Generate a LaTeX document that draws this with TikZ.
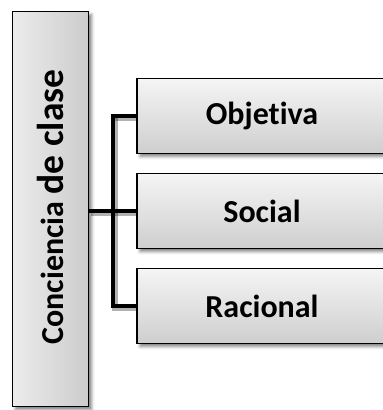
\documentclass[tikz,border=0pt]{standalone}
\usepackage{fontspec}
\setmainfont[Ligatures=NoCommon]{Carlito}
\usetikzlibrary{shadows.blur}
\begin{document}
\begin{tikzpicture}[x=1pt,y=-1pt,
  leftbox/.style={draw=black, line width=1.2pt, left color=gray!15, right color=gray!40,
     blur shadow={shadow xshift=3pt, shadow yshift=-3pt, shadow blur radius=3pt, shadow opacity=50}},
  childbox/.style={draw=black, line width=1.2pt, top color=gray!8, bottom color=gray!38,
     minimum width=250pt, minimum height=75pt, inner sep=0pt, font=\bfseries\fontsize{32}{36}\selectfont,
     blur shadow={shadow xshift=3pt, shadow yshift=-3pt, shadow blur radius=3pt, shadow opacity=50}},
  conn/.style={line width=4.5pt, black},
  connshadow/.style={line width=6pt, black, opacity=0.3, shorten >=2.5pt, transform canvas={shift={(2pt,-2pt)}}}]
\useasboundingbox (0,0) rectangle (383,410);
\clip (0,0) rectangle (383,410);
\node[leftbox, minimum width=76pt, minimum height=395pt, inner sep=0pt, anchor=north west] (main) at (12,11) {};
\node[rotate=90, font=\bfseries] (mlabel) at (50,207) {\fontsize{32}{38}\selectfont Conciencia \fontsize{37.5}{44}\selectfont de clase};
\node[childbox] (obj) at (262,116) {Objetiva};
\node[childbox] (soc) at (262,211) {Social};
\node[childbox] (rac) at (262,306) {Racional};
\coordinate (j) at (113,211);
\coordinate (jt) at (113,116);
\draw[connshadow] (main.east |- soc.west) -- (soc.west);
\draw[connshadow] (jt) -- (obj.west);
\draw[connshadow] (jt) |- (rac.west);
\draw[conn] (main.east |- soc.west) -- (soc.west);
\draw[conn] (obj.west) -| (j) |- (rac.west);
\end{tikzpicture}
\end{document}
